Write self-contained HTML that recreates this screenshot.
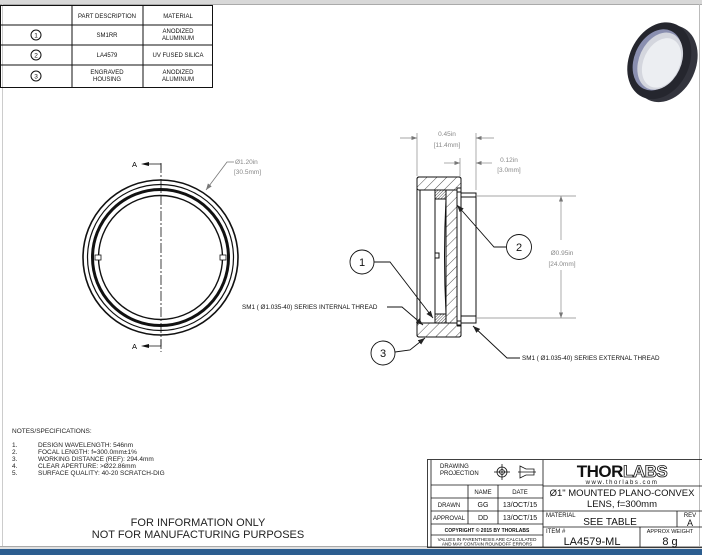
<!DOCTYPE html>
<html><head><style>
html,body{margin:0;padding:0;background:#fff;width:702px;height:555px;overflow:hidden}
svg{display:block}
text{font-family:"Liberation Sans",sans-serif;}
</style></head><body>
<svg width="702" height="555" viewBox="0 0 702 555" xmlns="http://www.w3.org/2000/svg">
<defs>
<pattern id="h" width="7" height="7" patternUnits="userSpaceOnUse" patternTransform="rotate(45)"><line x1="0" y1="0" x2="0" y2="7" stroke="#222" stroke-width="0.8"/></pattern>
<pattern id="hx" width="2" height="2" patternUnits="userSpaceOnUse" patternTransform="rotate(45)"><line x1="0" y1="0" x2="0" y2="2" stroke="#222" stroke-width="0.8"/></pattern>
<marker id="a" markerWidth="8" markerHeight="6" refX="8" refY="3" orient="auto"><path d="M0,0 L8,3 L0,6z" fill="#222"/></marker>
<marker id="ag" markerWidth="8" markerHeight="6" refX="8" refY="3" orient="auto"><path d="M0,0 L8,3 L0,6z" fill="#777"/></marker>
</defs>
<rect x="0" y="0" width="702" height="4" fill="#d8d8d8"/>
<line x1="0" y1="4.5" x2="702" y2="4.5" stroke="#aaa"/>
<line x1="699.5" y1="4" x2="699.5" y2="547" stroke="#bbb"/>
<line x1="2.5" y1="4" x2="2.5" y2="547" stroke="#ccc"/>
<line x1="0" y1="546.5" x2="702" y2="546.5" stroke="#aaa"/>
<rect x="0" y="549" width="702" height="6" fill="#2c5d8f"/>
<rect x="0" y="547" width="702" height="2" fill="#e0e0e0"/>

<g stroke="#111" stroke-width="1" fill="none">
<rect x="0.5" y="5.5" width="212" height="82"/>
<line x1="72" y1="5" x2="72" y2="88"/><line x1="143" y1="5" x2="143" y2="88"/>
<line x1="0" y1="25" x2="213" y2="25"/><line x1="0" y1="45" x2="213" y2="45"/><line x1="0" y1="65" x2="213" y2="65"/>
<circle cx="36" cy="35" r="5"/><circle cx="36" cy="55" r="5"/><circle cx="36" cy="76" r="5"/>
</g>
<g font-size="6" text-anchor="middle" fill="#111">
<text x="36" y="37.5" font-size="6.5">1</text><text x="36" y="57.5" font-size="6.5">2</text><text x="36" y="78.5" font-size="6.5">3</text>
<text x="107" y="18">PART DESCRIPTION</text><text x="178" y="18">MATERIAL</text>
<text x="107" y="37">SM1RR</text><text x="178" y="33">ANODIZED</text><text x="178" y="40">ALUMINUM</text>
<text x="107" y="57">LA4579</text><text x="178" y="57">UV FUSED SILICA</text>
<text x="107" y="74">ENGRAVED</text><text x="107" y="81">HOUSING</text><text x="178" y="74">ANODIZED</text><text x="178" y="81">ALUMINUM</text>
</g>

<g transform="translate(662,62) rotate(25)">
<ellipse cx="4" cy="0" rx="30" ry="40" fill="#33343d"/>
<ellipse cx="-3" cy="0" rx="30" ry="40" fill="#25262e"/>
<ellipse cx="-5" cy="0" rx="23" ry="32" fill="#8a8fb0"/>
<ellipse cx="-2" cy="0" rx="21" ry="30" fill="#d4d6de"/>
<ellipse cx="0" cy="1" rx="18" ry="26" fill="#eceef2"/>
</g>

<g fill="none" stroke="#111">
<circle cx="160.5" cy="257.5" r="77.5" stroke-width="1.6"/>
<circle cx="160.5" cy="257.5" r="73" stroke-width="1.2"/>
<circle cx="160.5" cy="257.5" r="68" stroke-width="3"/>
<circle cx="160.5" cy="257.5" r="62" stroke-width="1.4"/>
<rect x="95" y="255" width="6" height="5" fill="#fff" stroke-width="0.8"/>
<rect x="220" y="255" width="6" height="5" fill="#fff" stroke-width="0.8"/>
<line x1="161" y1="163" x2="161" y2="352" stroke-dasharray="10,2,2,2" stroke-width="0.8"/>
<polyline points="146,164 161,164 161,170" stroke-width="0.8"/>
<polyline points="146,346 161,346 161,340" stroke-width="0.8"/>
</g>
<path d="M141,164 l8,-2 v4z M141,346 l8,-2 v4z" fill="#111"/>
<text x="132" y="167" font-size="7.5">A</text><text x="132" y="349" font-size="7.5">A</text>
<polyline points="234,162 227,162 206,190" fill="none" stroke="#777" stroke-width="0.8" marker-end="url(#ag)"/>
<text x="235" y="164" font-size="6.5" fill="#888">Ø1.20in</text>
<text x="234" y="174" font-size="6.5" fill="#888">[30.5mm]</text>

<g stroke="#111" stroke-width="1">
<rect x="417" y="177" width="44" height="13" rx="2" fill="url(#h)"/>
<rect x="417" y="323" width="44" height="14" rx="2" fill="url(#h)"/>
<rect x="417" y="177" width="44" height="160" rx="2" fill="none"/>
<line x1="420" y1="190" x2="420" y2="323"/>
<rect x="446" y="190" width="11" height="133" fill="url(#h)"/>
<path d="M446,199 Q443,256 446,314" fill="none"/>
<line x1="435" y1="199" x2="435" y2="314"/>
<rect x="435" y="190" width="11" height="9" fill="url(#hx)"/>
<rect x="435" y="314" width="11" height="9" fill="url(#hx)"/>
<rect x="435" y="253" width="4" height="5" fill="#fff"/>
<path d="M457,190 h4 v3 h15 v130 h-15 v3 h-4" fill="none"/>
<line x1="461" y1="197" x2="476" y2="197"/>
<line x1="461" y1="316" x2="476" y2="316"/>
<rect x="457" y="188" width="4" height="4" fill="#fff"/>
<rect x="457" y="321" width="4" height="4" fill="#fff"/>
</g>
<g stroke="#888" stroke-width="0.7" fill="none">
<line x1="417" y1="133" x2="417" y2="176"/><line x1="476" y1="133" x2="476" y2="190"/>
<line x1="400" y1="138" x2="417" y2="138" marker-end="url(#ag)"/><line x1="494" y1="138" x2="476" y2="138" marker-end="url(#ag)"/>
<line x1="460" y1="158" x2="460" y2="176"/>
<line x1="444" y1="163" x2="460" y2="163" marker-end="url(#ag)"/><line x1="492" y1="163" x2="476" y2="163" marker-end="url(#ag)"/>
<line x1="476" y1="196" x2="576" y2="196"/><line x1="476" y1="318" x2="576" y2="318"/>
<line x1="561" y1="240" x2="561" y2="196" marker-end="url(#ag)"/><line x1="561" y1="270" x2="561" y2="318" marker-end="url(#ag)"/>
</g>
<g font-size="6.5" fill="#888" text-anchor="middle">
<text x="447" y="136">0.45in</text><text x="447" y="147">[11.4mm]</text>
<text x="509" y="162">0.12in</text><text x="509" y="172">[3.0mm]</text>
<text x="562" y="255">Ø0.95in</text><text x="562" y="266">[24.0mm]</text>
</g>
<g stroke="#111" stroke-width="0.9" fill="none">
<circle cx="362" cy="262" r="12"/><circle cx="519" cy="247" r="12.5"/><circle cx="383" cy="353" r="12"/>
<polyline points="374,262 390,262 433,318" marker-end="url(#a)"/>
<polyline points="506,247 494,247 457,205" marker-end="url(#a)"/>
<polyline points="395,352 410,350 425,338" marker-end="url(#a)"/>
<polyline points="387,307 402,307 423,325" marker-end="url(#a)"/>
<polyline points="520,358 507,358 473,326" marker-end="url(#a)"/>
</g>
<g font-size="11" text-anchor="middle" fill="#111"><text x="362" y="266">1</text><text x="519" y="251">2</text><text x="383" y="357">3</text></g>
<text x="242" y="309" font-size="6.3" fill="#111">SM1 ( Ø1.035-40) SERIES INTERNAL THREAD</text>
<text x="522" y="360" font-size="6.3" fill="#111">SM1 ( Ø1.035-40) SERIES EXTERNAL THREAD</text>

<g font-size="6.5" fill="#222">
<text x="12" y="433">NOTES/SPECIFICATIONS:</text>
<text x="12" y="447">1.</text><text x="38" y="447">DESIGN WAVELENGTH: 546nm</text>
<text x="12" y="454">2.</text><text x="38" y="454">FOCAL LENGTH: f=300.0mm±1%</text>
<text x="12" y="461">3.</text><text x="38" y="461">WORKING DISTANCE (REF): 294.4mm</text>
<text x="12" y="468">4.</text><text x="38" y="468">CLEAR APERTURE: &gt;Ø22.86mm</text>
<text x="12" y="475">5.</text><text x="38" y="475">SURFACE QUALITY: 40-20 SCRATCH-DIG</text>
</g>
<g font-size="11" fill="#222" text-anchor="middle">
<text x="198" y="526">FOR INFORMATION ONLY</text>
<text x="198" y="538">NOT FOR MANUFACTURING PURPOSES</text>
</g>

<g stroke="#111" stroke-width="0.8" fill="none">
<rect x="427.5" y="459.5" width="275" height="88"/>
<line x1="431" y1="460" x2="431" y2="547"/>
<line x1="543" y1="460" x2="543" y2="547"/>
<line x1="431" y1="485" x2="543" y2="485"/><line x1="431" y1="498" x2="543" y2="498"/><line x1="431" y1="511" x2="543" y2="511"/><line x1="431" y1="524" x2="543" y2="524"/><line x1="431" y1="535" x2="543" y2="535"/>
<line x1="468" y1="485" x2="468" y2="524"/><line x1="498" y1="485" x2="498" y2="524"/>
<line x1="543" y1="486" x2="702" y2="486"/><line x1="543" y1="511" x2="702" y2="511"/><line x1="543" y1="527" x2="702" y2="527"/>
<line x1="677" y1="511" x2="677" y2="527"/><line x1="640" y1="527" x2="640" y2="547"/>
<circle cx="502" cy="472" r="5"/><circle cx="502" cy="472" r="2.5"/>
<line x1="494" y1="472" x2="510" y2="472"/><line x1="502" y1="464" x2="502" y2="480"/>
<path d="M520,466 L526,469 H534 V475 H526 L520,478 Z M518,472 H536"/>
</g>
<g fill="#111" font-size="6" text-anchor="middle">
<text x="440" y="468" text-anchor="start">DRAWING</text><text x="440" y="475" text-anchor="start">PROJECTION</text>
<text x="483" y="494">NAME</text><text x="520" y="494">DATE</text>
<text x="449" y="507">DRAWN</text><text x="483" y="507" font-size="7">GG</text><text x="520" y="507" font-size="7">13/OCT/15</text>
<text x="449" y="520">APPROVAL</text><text x="483" y="520" font-size="7">DD</text><text x="520" y="520" font-size="7">13/OCT/15</text>
<text x="487" y="532" font-size="5" font-weight="bold">COPYRIGHT © 2015 BY THORLABS</text>
<text x="487" y="541" font-size="4.6">VALUES IN PARENTHESIS ARE CALCULATED</text>
<text x="487" y="545.5" font-size="4.6">AND MAY CONTAIN ROUNDOFF ERRORS</text>
<text x="622" y="477" font-size="17" font-weight="bold" letter-spacing="-0.5">THOR<tspan fill="#fff" stroke="#111" stroke-width="0.8">LABS</tspan></text>
<text x="622" y="484" font-size="6" letter-spacing="1.5">www.thorlabs.com</text>
<text x="622" y="496" font-size="9.5">Ø1" MOUNTED PLANO-CONVEX</text>
<text x="622" y="507" font-size="9.5">LENS, f=300mm</text>
<text x="546" y="517" font-size="6" text-anchor="start">MATERIAL</text>
<text x="610" y="525" font-size="10">SEE TABLE</text>
<text x="690" y="517" font-size="6">REV</text><text x="690" y="526" font-size="9">A</text>
<text x="546" y="533" font-size="6" text-anchor="start">ITEM #</text>
<text x="592" y="545" font-size="11">LA4579-ML</text>
<text x="670" y="533" font-size="5.5">APPROX WEIGHT</text>
<text x="670" y="545" font-size="11">8 g</text>
</g>
</svg>
</body></html>
